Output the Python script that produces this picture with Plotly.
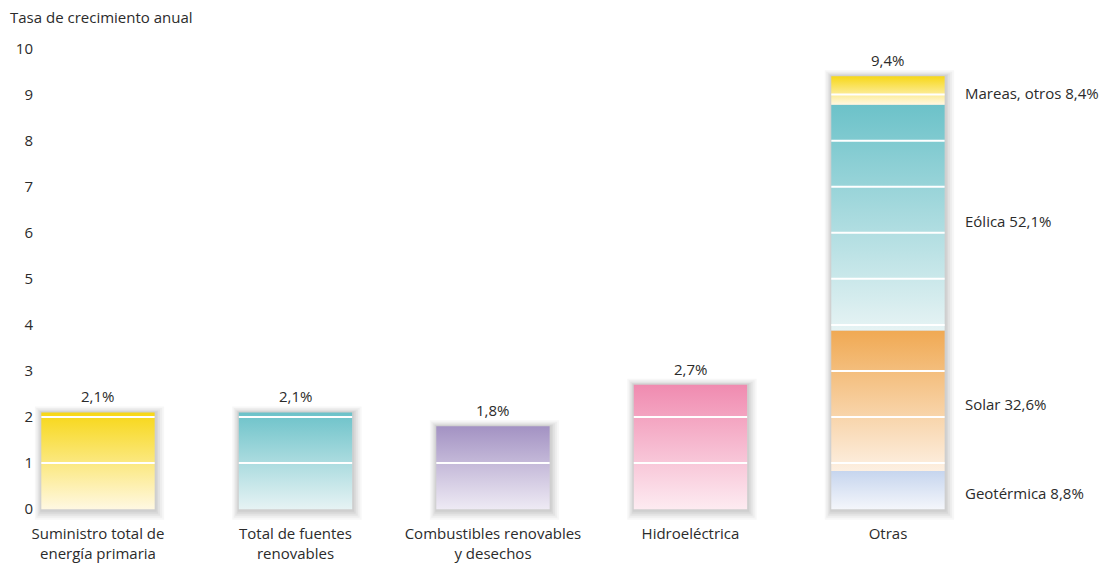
import plotly.graph_objects as go

# ---- data ----
categories = ["Suministro total de<br>energía primaria", "Total de fuentes<br>renovables",
              "Combustibles renovables<br>y desechos", "Hidroeléctrica", "Otras"]
growth = [2.1, 2.1, 1.8, 2.7, 9.4]
value_labels = ["2,1%", "2,1%", "1,8%", "2,7%", "9,4%"]

# breakdown of "Otras" (segment heights, bottom to top)
otras_parts = ["Geotérmica 8,8%", "Solar 32,6%", "Eólica 52,1%", "Mareas, otros 8,4%"]
otras_heights = [0.83, 3.05, 4.90, 0.62]

y_ticks = list(range(0, 11))

# ---- styling ----
bar_grad = [("#FFF8E2", "#F7D716"), ("#E6F3F4", "#6CC2C9"), ("#EEEAF4", "#A392C3"),
            ("#FDEBF1", "#F08BB0")]
otras_grad = [("#F4F6FB", "#C6D5EE"), ("#FDF0E2", "#F0A953"), ("#E6F3F4", "#6CC2C9"),
              ("#FFF8E2", "#F7D716")]
HALF_W = 0.287
PX_X = 197.5  # px per x unit
PX_Y = 46.1   # px per y unit
FONT = "Open Sans"
FS = 15
TXT = "#2b2b2b"

fig = go.Figure()
shapes = []

def add_shadow(xc, top):
    # (left, right, top, bottom) pads in px, colour
    pads = [(6.5, 9.5, 6, 10.5, "#f7f7f7"), (5, 7.5, 4.5, 8.5, "#eeeeee"),
            (3.5, 5.5, 3, 6.5, "#e3e3e3"), (2, 3.5, 1.8, 4.5, "#d8d8d8"),
            (1, 2, 1, 2.5, "#cfcfcf")]
    for lp, rp, tp, bt, col in pads:
        shapes.append(dict(type="rect", xref="x", yref="y", layer="below",
                           x0=xc - HALF_W - lp / PX_X, x1=xc + HALF_W + rp / PX_X,
                           y0=-bt / PX_Y, y1=top + tp / PX_Y,
                           fillcolor=col, line=dict(width=0)))

def add_fill(xc, y0, y1, lo, hi):
    x0, x1 = xc - HALF_W, xc + HALF_W
    fig.add_trace(go.Scatter(
        x=[x0, x1, x1, x0, x0], y=[y0, y0, y1, y1, y0], mode="lines",
        fill="toself", line=dict(width=0), hoverinfo="skip", showlegend=False,
        fillgradient=dict(type="vertical", colorscale=[[0, lo], [1, hi]], start=y0, stop=y1)))

# simple bars
for i in range(4):
    add_shadow(i, growth[i])
    add_fill(i, 0, growth[i], *bar_grad[i])

# stacked "Otras"
xo = 4
add_shadow(xo, growth[4])
base = 0.0
mids = []
for h, (lo, hi) in zip(otras_heights, otras_grad):
    add_fill(xo, base, base + h, lo, hi)
    mids.append(base + h / 2)
    base += h

# white grid segments inside bars
gx, gy = [], []
for i, v in enumerate(growth):
    for k in y_ticks[1:]:
        if k < v:
            gx += [i - HALF_W, i + HALF_W, None]
            gy += [k, k, None]
fig.add_trace(go.Scatter(x=gx, y=gy, mode="lines", line=dict(color="white", width=2),
                         hoverinfo="skip", showlegend=False))

annotations = []
for i, (v, t) in enumerate(zip(growth, value_labels)):
    annotations.append(dict(x=i, y=v, text=t, showarrow=False, yanchor="bottom", yshift=4,
                            font=dict(family=FONT, size=FS, color=TXT)))
for m, t in zip(mids, otras_parts):
    annotations.append(dict(x=xo, y=m, text=t, showarrow=False, xanchor="left", yanchor="middle",
                            xshift=75, yshift=-3, font=dict(family=FONT, size=FS, color=TXT)))
annotations.append(dict(xref="paper", yref="paper", x=0, y=1, xanchor="left", yanchor="middle",
                        xshift=-26, yshift=20, text="Tasa de crecimiento anual", showarrow=False,
                        font=dict(family=FONT, size=FS, color=TXT)))

fig.update_layout(
    width=1115, height=563,
    margin=dict(l=34, r=10, t=37, b=40, autoexpand=False),
    paper_bgcolor="white", plot_bgcolor="white",
    shapes=shapes, annotations=annotations,
    font=dict(family=FONT, size=FS, color=TXT),
    xaxis=dict(range=[-0.324, 5.099], tickmode="array", tickvals=list(range(5)),
               ticktext=categories, showgrid=False, zeroline=False, showline=False,
               automargin=False, ticks="", tickfont=dict(family=FONT, size=FS, color=TXT)),
    yaxis=dict(range=[-0.3, 10.25], tickmode="array", tickvals=y_ticks,
               ticktext=[str(t) for t in y_ticks], showgrid=False, zeroline=False,
               showline=False, automargin=False, ticks="",
               tickfont=dict(family=FONT, size=FS, color=TXT)),
)

fig.write_html("out.html", config={"displayModeBar": False},
               post_script="document.body.style.margin='0';document.body.style.overflow='hidden';")
